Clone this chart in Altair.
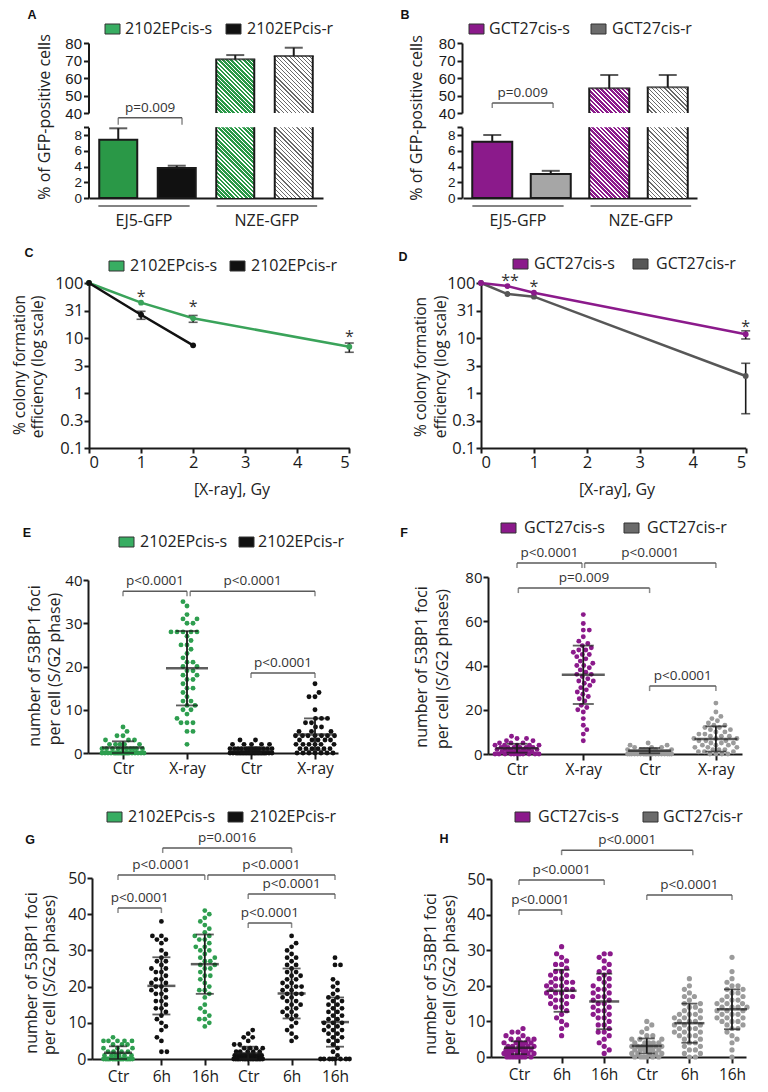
import altair as alt
import numpy as np
import pandas as pd

# ---------------- values ----------------
# Panels A / B : % of GFP-positive cells, bars = [EJ5 s, EJ5 r, NZE s, NZE r]
ab_groups = ["EJ5-GFP", "NZE-GFP"]
a_series = ["2102EPcis-s", "2102EPcis-r"]
a_mean = [7.4, 3.8, 70.7, 72.6]
a_sd = [1.45, 0.3, 2.4, 4.7]
b_series = ["GCT27cis-s", "GCT27cis-r"]
b_mean = [7.15, 3.05, 54.1, 54.7]
b_sd = [0.85, 0.4, 7.6, 7.0]
ab_p = "p=0.009"

# Panels C / D : colony formation efficiency (log scale)
c_s_dose = [0, 1, 2, 5]
c_s_val = [100, 43.9, 22.8, 6.95]
c_s_lo = [100, 43.9, 19.3, 5.5]
c_s_hi = [100, 43.9, 25.7, 8.1]
c_r_dose = [0, 1, 2]
c_r_val = [100, 26.5, 7.36]
c_r_lo = [100, 21.9, 7.36]
c_r_hi = [100, 30.6, 7.36]
c_star_dose = [1, 2, 5]
c_star_y = [65.8, 43.3, 12.3]
c_star_txt = ["*", "*", "*"]

d_s_dose = [0, 0.5, 1, 5]
d_s_val = [100, 88, 66.7, 11.7]
d_s_lo = [100, 88, 66.7, 9.6]
d_s_hi = [100, 88, 66.7, 13.5]
d_r_dose = [0, 0.5, 1, 5]
d_r_val = [100, 63, 56.4, 2.04]
d_r_lo = [100, 63, 56.4, 0.42]
d_r_hi = [100, 63, 56.4, 3.47]
d_star_dose = [0.55, 1, 5]
d_star_y = [128, 100, 18.7]
d_star_txt = ["**", "*", "*"]

log_ticks = [0.1, 0.316, 1, 3.16, 10, 31.6, 100]
log_labels = ["0.1", "0.3", "1", "3", "10", "31", "100"]
dose_ticks = [0, 1, 2, 3, 4, 5]

# Panel E : 53BP1 foci, groups Ctr / X-ray (s) , Ctr / X-ray (r)
e_labels = ["Ctr", "X-ray", "Ctr", "X-ray"]
e_s_ctr = [6, 5, 4, 4, 3, 3, 3, 2, 2, 2, 2, 2, 1, 1, 1, 1, 1, 1, 1, 1, 1, 1,
           0, 0, 0, 0, 0, 0, 0, 0, 0, 0, 0, 0, 0, 0, 0, 0, 0, 0, 0, 0]
e_s_xray = [35, 34, 32, 31, 31, 30, 30, 28, 28, 28, 28, 28, 27, 26, 25, 25, 24, 23,
            22, 21, 21, 20, 20, 19, 19, 18, 18, 17, 17, 16, 15, 15, 14, 13, 12, 12,
            11, 11, 10, 10, 9, 8, 7, 7, 7, 5, 5, 2]
e_r_ctr = [3, 3, 2, 2, 2, 2, 2, 1, 1, 1, 1, 1, 1, 1, 1, 1, 1, 1, 1, 1, 1,
           0, 0, 0, 0, 0, 0, 0, 0, 0, 0, 0, 0, 0, 0, 0, 0, 0, 0, 0, 0, 0, 0, 0, 0, 0]
e_r_xray = [16, 14, 13, 13, 10, 8, 8, 8, 7, 7, 6, 6, 5, 5, 5, 4, 4, 4, 4, 4, 4, 4,
            3, 3, 3, 3, 3, 2, 2, 2, 2, 2, 2, 1, 1, 1, 1, 1, 1, 0, 0, 0, 0, 0, 0, 0]
e_mean = [1.3, 19.6, 0.6, 4.3]
e_sd = [1.4, 8.6, 0.6, 3.7]
e_br_x1 = [0, 1.05, 2]
e_br_x2 = [1, 3, 3]
e_br_y = [37.4, 37.4, 18.5]
e_br_txt = ["p<0.0001", "p<0.0001", "p<0.0001"]

# Panel F
f_labels = ["Ctr", "X-ray", "Ctr", "X-ray"]
f_s_ctr = [8, 7, 7, 6, 6, 5, 5, 5, 4, 4, 4, 4, 4, 3, 3, 3, 3, 3, 3, 2, 2, 2, 2, 2, 2, 2,
           1, 1, 1, 1, 1, 1, 1, 1, 0, 0, 0, 0, 0, 0, 0, 0, 0, 0, 0]
f_s_xray = [63, 59, 56, 56, 53, 51, 50, 49, 48, 47, 47, 46, 45, 45, 44, 43, 42, 41, 40, 40,
            39, 38, 37, 36, 36, 35, 34, 33, 33, 32, 31, 30, 29, 28, 27, 26, 25, 24, 22, 21,
            20, 19, 16, 13, 11, 9, 6]
f_r_ctr = [5, 4, 4, 3, 3, 3, 2, 2, 2, 2, 2, 2, 1, 1, 1, 1, 1, 1, 1, 1, 1, 1, 1, 1, 1, 1,
           0, 0, 0, 0, 0, 0, 0, 0, 0, 0, 0, 0, 0, 0, 0, 0, 0, 0, 0, 0]
f_r_xray = [23, 19, 17, 16, 15, 14, 13, 13, 12, 12, 11, 11, 10, 10, 9, 9, 8, 8, 8, 7, 7, 7,
            6, 6, 6, 5, 5, 5, 4, 4, 4, 3, 3, 3, 2, 2, 2, 1, 1, 1, 0, 0, 0, 0]
f_mean = [2.6, 35.8, 1.5, 6.8]
f_sd = [2.0, 13.2, 1.2, 5.7]
f_br_x1 = [0, 1.02, 0.02, 2]
f_br_x2 = [0.98, 3, 2, 3]
f_br_y = [86.3, 86.3, 75.0, 30.7]
f_br_txt = ["p<0.0001", "p<0.0001", "p=0.009", "p<0.0001"]

# Panel G
g_labels = ["Ctr", "6h", "16h", "Ctr", "6h", "16h"]
g_0 = [6, 5, 5, 5, 5, 5, 4, 4, 4, 3, 3, 3, 2, 2, 2, 2, 1, 1, 1, 1, 1, 1,
       0, 0, 0, 0, 0, 0, 0, 0, 0, 0, 0, 0, 0, 0, 0, 0, 0, 0]
g_1 = [38, 34, 34, 33, 33, 32, 30, 29, 28, 27, 27, 26, 25, 25, 24, 24, 23, 22, 22, 21, 21,
       20, 20, 19, 19, 18, 18, 17, 16, 16, 15, 14, 14, 13, 12, 11, 10, 9, 8, 6, 5, 2, 2]
g_2 = [41, 40, 39, 38, 37, 36, 35, 34, 34, 33, 33, 32, 31, 31, 30, 30, 29, 28, 28, 27, 27,
       26, 26, 25, 25, 24, 23, 23, 22, 21, 20, 19, 19, 18, 17, 15, 14, 13, 12, 11, 11, 10, 9]
g_3 = [8, 7, 6, 6, 5, 4, 4, 3, 3, 3, 3, 2, 2, 2, 2, 2, 1, 1, 1, 1, 1, 1, 1, 1, 1, 1,
       0, 0, 0, 0, 0, 0, 0, 0, 0, 0, 0, 0, 0, 0, 0, 0, 0, 0]
g_4 = [34, 32, 31, 30, 29, 28, 28, 27, 26, 26, 25, 24, 24, 23, 23, 22, 22, 21, 21, 20, 20, 20,
       19, 19, 18, 18, 18, 17, 17, 16, 16, 15, 15, 14, 14, 13, 13, 12, 12, 11, 10, 9, 8, 7, 6, 5]
g_5 = [28, 26, 26, 22, 21, 20, 19, 18, 17, 17, 16, 16, 15, 15, 14, 14, 13, 13, 12, 12, 11, 11,
       10, 10, 10, 9, 9, 8, 8, 8, 7, 7, 6, 6, 5, 5, 4, 3, 2, 1, 0, 0, 0, 0, 0, 0, 0, 0]
g_mean = [1.7, 20.2, 26.2, 1.6, 18.1, 10.2]
g_sd = [1.8, 7.9, 8.2, 1.8, 6.9, 6.8]
g_br_x1 = [1.03, 0, 2.07, 3, 0, 3]
g_br_x2 = [4, 2, 5, 5, 1, 4]
g_br_y = [58.3, 50.8, 50.8, 45.6, 41.7, 37.6]
g_br_txt = ["p=0.0016", "p<0.0001", "p<0.0001", "p<0.0001", "p<0.0001", "p<0.0001"]

# Panel H
h_labels = ["Ctr", "6h", "16h", "Ctr", "6h", "16h"]
h_0 = [8, 7, 7, 6, 6, 5, 5, 5, 5, 4, 4, 4, 4, 4, 3, 3, 3, 3, 3, 3, 2, 2, 2, 2, 2, 2, 2,
       1, 1, 1, 1, 1, 1, 1, 0, 0, 0, 0, 0, 0, 0, 0]
h_1 = [31, 29, 28, 27, 26, 26, 25, 24, 24, 23, 23, 22, 22, 21, 21, 21, 20, 20, 20, 19, 19,
       19, 18, 18, 18, 17, 17, 17, 16, 16, 15, 15, 14, 14, 13, 12, 11, 10, 9, 8, 6]
h_2 = [29, 29, 28, 27, 26, 25, 24, 24, 23, 22, 22, 21, 20, 20, 19, 19, 18, 18, 17, 17, 16,
       16, 15, 15, 14, 14, 13, 13, 12, 12, 11, 11, 10, 9, 9, 8, 7, 7, 6, 5, 4, 3, 2, 1]
h_3 = [10, 9, 8, 7, 6, 6, 5, 5, 5, 4, 4, 4, 4, 4, 3, 3, 3, 3, 3, 3, 3, 2, 2, 2, 2, 2, 2,
       1, 1, 1, 1, 1, 0, 0, 0, 0, 0, 0]
h_4 = [22, 20, 19, 18, 17, 17, 16, 15, 15, 14, 14, 13, 13, 12, 12, 12, 11, 11, 11, 10, 10, 10,
       9, 9, 9, 8, 8, 8, 7, 7, 7, 6, 6, 6, 5, 5, 4, 4, 3, 3, 2, 2, 1, 1, 0, 0]
h_5 = [28, 24, 22, 21, 20, 20, 19, 19, 18, 18, 17, 17, 16, 16, 16, 15, 15, 15, 14, 14, 14, 14,
       13, 13, 13, 12, 12, 12, 11, 11, 11, 10, 10, 10, 9, 9, 8, 8, 7, 6, 5, 4, 2, 0]
h_mean = [2.6, 18.6, 15.6, 3.1, 9.5, 13.4]
h_sd = [1.8, 5.9, 7.8, 2.1, 5.5, 5.6]
h_br_x1 = [1, 0, 3, 0]
h_br_x2 = [4.08, 2, 5, 1]
h_br_y = [58.1, 49.7, 45.5, 41.3]
h_br_txt = ["p<0.0001", "p<0.0001", "p<0.0001", "p<0.0001"]

# ---------------- styling / layout ----------------
FONT = "Open Sans"
LETTER_FONT = "Liberation Sans"
TIGHT_FONT = "Liberation Sans"
INK = "#1a1a1a"
TXT = "#222222"
BRC = "#5a5a5a"
GREEN = "#2e9e4f"
GREEN_BAR = "#2a9847"
GREEN_LEG = "#38ad62"
GREEN_LINE = "#3aa35a"
PURPLE = "#8b1a8b"
GREY_BAR = "#a6a6a6"
GREY_PT = "#9b9b9b"
GREY_DK = "#575757"
GREY_LEG = "#6b6b6b"
BLACK = "#111111"

VW, VH = 752, 1076


def P(v):
    return v - 8


def one():
    return alt.Data(values=[{"k": 0}])


def text_at(x, y, s, size=16, angle=0, bold=False, font=FONT, align="center",
            baseline="middle", color=TXT):
    kw = dict(text=s, fontSize=size, font=font, align=align, baseline=baseline, color=color)
    if angle:
        kw["angle"] = angle
    if bold:
        kw["fontWeight"] = "bold"
    return alt.Chart(one()).mark_text(**kw).encode(x=alt.value(P(x)), y=alt.value(P(y)))


def legend_items(yc, items):
    out = []
    for x0, xt, col, lab in items:
        out.append(alt.Chart(one()).mark_rect(fill=col, stroke="#333333", strokeWidth=1).encode(
            x=alt.value(P(x0)), x2=alt.value(P(x0 + 15)),
            y=alt.value(P(yc - 5)), y2=alt.value(P(yc + 5))))
        out.append(text_at(xt, yc, lab, size=16, align="left"))
    return out


def hatch(w, h, fg, bg, period=4.2, frac=0.5):
    k = (w + h) / (w * w + h * h)
    n = max(1, int(round((w + h) / period)))
    stops = []
    for i in range(n):
        a, b, c = i / n, (i + frac) / n, (i + 1) / n
        stops += [{"offset": a, "color": fg}, {"offset": b, "color": fg},
                  {"offset": b, "color": bg}, {"offset": c, "color": bg}]
    return {"gradient": "linear", "x1": 0, "y1": 1, "x2": k * w, "y2": 1 - k * h,
            "stops": stops}


def bracket_layers(Xf, Yf, x1, x2, y, txt, tick=5, size=13.5):
    df = pd.DataFrame({"x1": x1, "x2": x2, "y": y, "t": txt})
    df["xm"] = (df["x1"] + df["x2"]) / 2
    return [
        alt.Chart(df).mark_rule(color=BRC, strokeWidth=1.5).encode(
            x=Xf("x1"), x2=alt.X2("x2"), y=Yf("y")),
        alt.Chart(df).mark_tick(orient="vertical", size=tick, thickness=1.5,
                                yOffset=tick / 2, color=BRC).encode(x=Xf("x1"), y=Yf("y")),
        alt.Chart(df).mark_tick(orient="vertical", size=tick, thickness=1.5,
                                yOffset=tick / 2, color=BRC).encode(x=Xf("x2"), y=Yf("y")),
        alt.Chart(df).mark_text(font=FONT, fontSize=size, color="#333333", dy=-6,
                                baseline="alphabetic").encode(x=Xf("xm"), y=Yf("y"), text="t:N"),
    ]


# ---------------- A / B : broken-axis bar charts ----------------
KY_BOT = (198 - 135) / 8.0
KY_TOP = (113 - 43) / 40.0


def bar_panel(means, sds, solid_fills, hatch_cols, axis_x, xl, xr, bw, br_seg, br_x2, br_y, br_tick):
    df = pd.DataFrame({"i": [0, 1, 2, 3], "m": means,
                       "hi": [m + s for m, s in zip(means, sds)]})
    df["z"] = 0.0
    df["b40"] = 40.0
    df["m9"] = df["m"].clip(upper=9)
    df["fill"] = solid_fills + ["#ffffff", "#ffffff"]
    xs = alt.Scale(domain=[-0.5, 3.5], range=[P(xl), P(xr)], nice=False, zero=False, padding=0)
    ax_xb = alt.Axis(orient="bottom", offset=P(198) - VH, ticks=False, labels=False,
                     title=None, grid=False)
    ys_b = alt.Scale(domain=[0, 9], range=[P(198), P(198 - 9 * KY_BOT)], nice=False,
                     zero=False, padding=0)
    ys_t = alt.Scale(domain=[40, 80], range=[P(113), P(43)], nice=False, zero=False, padding=0)
    ax_yb = alt.Axis(orient="left", offset=-P(axis_x), values=[0, 2, 4, 6, 8, 9],
                     labelExpr="datum.value == 9 ? '' : datum.label", title=None, grid=False,
                     labelFont=TIGHT_FONT, labelFontSize=13.5, tickSize=5, labelPadding=2,
                     labelOverlap=False)
    ax_yt = alt.Axis(orient="left", offset=-P(axis_x), values=[40, 50, 60, 70, 80],
                     title=None, grid=False, labelFont=TIGHT_FONT, labelFontSize=15,
                     tickSize=5, labelPadding=2, labelOverlap=False)

    def Xb(f):
        return alt.X(f + ":Q", scale=xs, axis=ax_xb)

    def Xt(f):
        return alt.X(f + ":Q", scale=xs, axis=None)

    def Yb(f):
        return alt.Y(f + ":Q", scale=ys_b, axis=ax_yb)

    def Yt(f):
        return alt.Y(f + ":Q", scale=ys_t, axis=ax_yt)

    solid = df[df.i < 2]
    bot = [
        alt.Chart(solid).mark_bar(size=bw, stroke=INK, strokeWidth=2).encode(
            x=Xb("i"), y=Yb("m"), y2=alt.Y2("z"), fill=alt.Fill("fill:N", scale=None)),
        alt.Chart(solid).mark_rule(color=INK, strokeWidth=2).encode(
            x=Xb("i"), y=Yb("m"), y2=alt.Y2("hi")),
        alt.Chart(solid).mark_tick(orient="horizontal", size=18, thickness=2, color=INK).encode(
            x=Xb("i"), y=Yb("hi")),
    ]
    top = []
    for j, (fg, bg, frac) in zip([2, 3], hatch_cols):
        row = df[df.i == j]
        m = float(row["m"].iloc[0])
        bot.append(alt.Chart(row).mark_bar(size=bw, fill=hatch(bw, 9 * KY_BOT, fg, bg, frac=frac)).encode(
            x=Xb("i"), y=Yb("m9"), y2=alt.Y2("z")))
        top.append(alt.Chart(row).mark_bar(size=bw, fill=hatch(bw, (m - 40) * KY_TOP, fg, bg, frac=frac)).encode(
            x=Xt("i"), y=Yt("m"), y2=alt.Y2("b40")))
        for side in (-bw / 2, bw / 2):
            bot.append(alt.Chart(row).mark_rule(color=INK, strokeWidth=2, xOffset=side).encode(
                x=Xb("i"), y=Yb("m9"), y2=alt.Y2("z")))
            top.append(alt.Chart(row).mark_rule(color=INK, strokeWidth=2, xOffset=side).encode(
                x=Xt("i"), y=Yt("m"), y2=alt.Y2("b40")))
    hat = df[df.i >= 2]
    top += [
        alt.Chart(hat).mark_tick(orient="horizontal", size=bw + 2, thickness=2, color=INK).encode(
            x=Xt("i"), y=Yt("m")),
        alt.Chart(hat).mark_rule(color=INK, strokeWidth=2).encode(
            x=Xt("i"), y=Yt("m"), y2=alt.Y2("hi")),
        alt.Chart(hat).mark_tick(orient="horizontal", size=18, thickness=2, color=INK).encode(
            x=Xt("i"), y=Yt("hi")),
    ]
    # group underline + labels
    gdf = pd.DataFrame({"g": ab_groups, "x1": [-0.34, 1.68], "x2": [1.22, 3.4], "xm": [0.44, 2.54]})
    bot += [
        alt.Chart(gdf).mark_rule(color=BRC, strokeWidth=1.5).encode(
            x=Xb("x1"), x2=alt.X2("x2"), y=alt.value(P(206))),
        alt.Chart(gdf).mark_text(font=FONT, fontSize=16, color=TXT).encode(
            x=Xb("xm"), y=alt.value(P(221)), text="g:N"),
    ]
    if br_seg == "bot":
        bot += bracket_layers(Xb, Yb, [0], [br_x2], [br_y], [ab_p], tick=br_tick)
    else:
        top += bracket_layers(Xt, Yt, [0], [br_x2], [br_y], [ab_p], tick=br_tick)
    return [alt.layer(*bot), alt.layer(*top)]


panels = []
panels += bar_panel(a_mean, a_sd, [GREEN_BAR, BLACK],
                    [(GREEN_BAR, "#ffffff", 0.62), ("#6a6a6a", "#ffffff", 0.3)],
                    axis_x=88.5, xl=89, xr=323, bw=38, br_seg="bot", br_x2=1.09,
                    br_y=10.2, br_tick=7)
panels += bar_panel(b_mean, b_sd, [PURPLE, GREY_BAR],
                    [(PURPLE, "#ffffff", 0.62), ("#6a6a6a", "#ffffff", 0.3)],
                    axis_x=462, xl=463, xr=697, bw=40, br_seg="top", br_x2=1.04,
                    br_y=45.7, br_tick=5)


# ---------------- C / D : survival curves ----------------
def log_label_expr():
    parts = []
    for k in range(len(log_ticks) - 1):
        thr = (log_ticks[k] * log_ticks[k + 1]) ** 0.5
        parts.append(f"datum.value < {thr:.4f} ? '{log_labels[k]}' : ")
    return "".join(parts) + f"'{log_labels[-1]}'"


def curve_panel(axis_x, x5, series, stars):
    xs = alt.Scale(domain=[0, 5], range=[P(axis_x), P(x5)], nice=False, zero=False, padding=0)
    ys = alt.Scale(type="log", domain=[0.1, 100], range=[P(448), P(283)], nice=False, padding=0)
    ax_x = alt.Axis(orient="bottom", offset=P(448) - VH, values=dose_ticks, format="d",
                    title=None, grid=False, labelFontSize=16.5, tickSize=5, labelPadding=1)
    ax_y = alt.Axis(orient="left", offset=-P(axis_x), values=log_ticks, labelExpr=log_label_expr(),
                    title=None, grid=False, labelFontSize=16.5, tickSize=5, labelPadding=1,
                    labelOverlap=False)

    def Xf(f):
        return alt.X(f + ":Q", scale=xs, axis=ax_x)

    def Yf(f):
        return alt.Y(f + ":Q", scale=ys, axis=ax_y)

    layers = []
    for dose, val, lo, hi, col in series:
        df = pd.DataFrame({"d": dose, "v": val, "lo": lo, "hi": hi})
        err = df[df.lo < df.hi]
        layers += [
            alt.Chart(df).mark_line(color=col, strokeWidth=2.5).encode(x=Xf("d"), y=Yf("v")),
            alt.Chart(err).mark_rule(color=INK, strokeWidth=1.6).encode(
                x=Xf("d"), y=Yf("lo"), y2=alt.Y2("hi")),
            alt.Chart(err).mark_tick(orient="horizontal", size=9, thickness=1.6, color=INK).encode(
                x=Xf("d"), y=Yf("lo")),
            alt.Chart(err).mark_tick(orient="horizontal", size=9, thickness=1.6, color=INK).encode(
                x=Xf("d"), y=Yf("hi")),
            alt.Chart(df).mark_circle(size=34, color=col, opacity=1).encode(x=Xf("d"), y=Yf("v")),
        ]
    sd = pd.DataFrame({"d": stars[0], "y": stars[1], "t": stars[2]})
    layers.append(alt.Chart(sd).mark_text(font=FONT, fontSize=16, color="#333333", dy=4).encode(
        x=Xf("d"), y=Yf("y"), text="t:N"))
    return alt.layer(*layers)


panels.append(curve_panel(89, 349.3, [
    (c_s_dose, c_s_val, c_s_lo, c_s_hi, GREEN_LINE),
    (c_r_dose, c_r_val, c_r_lo, c_r_hi, BLACK)],
    (c_star_dose, c_star_y, c_star_txt)))
panels.append(curve_panel(481, 745.7, [
    (d_r_dose, d_r_val, d_r_lo, d_r_hi, GREY_DK),
    (d_s_dose, d_s_val, d_s_lo, d_s_hi, PURPLE)],
    (d_star_dose, d_star_y, d_star_txt)))


# ---------------- E - H : scatter dot plots ----------------
def swarm_offsets(vals, ky, d, wmax):
    vals = np.asarray(vals, dtype=float)
    ys = vals * ky
    order = np.argsort(vals, kind="stable")
    cand = np.round(np.arange(-wmax, wmax + 1e-9, 0.5), 3)
    pxl, pyl = [], []
    off = np.zeros(len(vals))
    last = -1.0
    for i in order:
        y = ys[i]
        if pxl:
            pxa = np.array(pxl)
            pya = np.array(pyl)
            dist = np.sqrt((cand[:, None] - pxa[None, :]) ** 2 + (y - pya[None, :]) ** 2).min(axis=1)
        else:
            dist = np.full(cand.shape, np.inf)
        ok = dist >= d
        if ok.any():
            score = np.where(ok, np.abs(cand) + 0.01 * (np.sign(cand) == last), np.inf)
            j = int(np.argmin(score))
        else:
            j = int(np.argmax(dist - 0.02 * np.abs(cand)))
        off[i] = cand[j]
        pxl.append(cand[j])
        pyl.append(y)
        if cand[j] != 0:
            last = np.sign(cand[j])
    return off


def dot_panel(groups, colors, means, sds, labels, x0, dx, xl, xr, ymax, y0p, y1p, ystep,
              ylab, d, size, wmax, mean_w, cap_w, br, lab_pad):
    n = len(groups)
    ky = (y0p - y1p) / ymax
    rows = []
    for gi, (vals, col) in enumerate(zip(groups, colors)):
        offs = swarm_offsets(vals, ky, d, wmax)
        for v, o in zip(vals, offs):
            rows.append({"x": gi + o / dx, "v": v, "c": col})
    pts = pd.DataFrame(rows)
    st = pd.DataFrame({"x": list(range(n)), "m": means,
                       "lo": [max(m - s, 0) for m, s in zip(means, sds)],
                       "hi": [m + s for m, s in zip(means, sds)]})
    xs = alt.Scale(domain=[(xl - x0) / dx, (xr - x0) / dx], range=[P(xl), P(xr)],
                   nice=False, zero=False, padding=0)
    ys = alt.Scale(domain=[0, ymax], range=[P(y0p), P(y1p)], nice=False, zero=False, padding=0)
    lab_expr = "[" + ",".join(f"'{s}'" for s in labels) + "][datum.value]"
    ax_x = alt.Axis(orient="bottom", offset=P(y0p) - VH, values=list(range(n)), labelExpr=lab_expr,
                    title=None, grid=False, labelFontSize=15.5, tickSize=6, labelPadding=lab_pad,
                    labelOverlap=False)
    ax_y = alt.Axis(orient="left", offset=-P(xl), values=list(range(0, ymax + 1, ystep)),
                    title=None, grid=False, labelFontSize=ylab, tickSize=5, labelPadding=1,
                    labelOverlap=False)

    def Xf(f):
        return alt.X(f + ":Q", scale=xs, axis=ax_x)

    def Yf(f):
        return alt.Y(f + ":Q", scale=ys, axis=ax_y)

    layers = [
        alt.Chart(pts).mark_circle(size=size, opacity=1).encode(
            x=Xf("x"), y=Yf("v"), color=alt.Color("c:N", scale=None)),
        alt.Chart(st).mark_rule(color=INK, strokeWidth=1.8).encode(
            x=Xf("x"), y=Yf("lo"), y2=alt.Y2("hi")),
        alt.Chart(st).mark_tick(orient="horizontal", size=cap_w, thickness=1.8, color=INK).encode(
            x=Xf("x"), y=Yf("lo")),
        alt.Chart(st).mark_tick(orient="horizontal", size=cap_w, thickness=1.8, color=INK).encode(
            x=Xf("x"), y=Yf("hi")),
        alt.Chart(st).mark_tick(orient="horizontal", size=mean_w, thickness=2.5, color=INK).encode(
            x=Xf("x"), y=Yf("m")),
    ]
    layers += bracket_layers(Xf, Yf, *br)
    return alt.layer(*layers)


panels.append(dot_panel([e_s_ctr, e_s_xray, e_r_ctr, e_r_xray], [GREEN, GREEN, BLACK, BLACK],
                        e_mean, e_sd, e_labels, x0=123, dx=64, xl=88, xr=338, ymax=40,
                        y0p=753, y1p=580, ystep=10, ylab=15, d=5.6, size=24, wmax=21,
                        mean_w=42, cap_w=22, br=(e_br_x1, e_br_x2, e_br_y, e_br_txt), lab_pad=2))
panels.append(dot_panel([f_s_ctr, f_s_xray, f_r_ctr, f_r_xray], [PURPLE, PURPLE, GREY_PT, GREY_PT],
                        f_mean, f_sd, f_labels, x0=517, dx=66.3, xl=488, xr=742, ymax=80,
                        y0p=754, y1p=577, ystep=20, ylab=15, d=5.6, size=24, wmax=22,
                        mean_w=43, cap_w=21, br=(f_br_x1, f_br_x2, f_br_y, f_br_txt), lab_pad=2))
panels.append(dot_panel([g_0, g_1, g_2, g_3, g_4, g_5], [GREEN, BLACK, GREEN, BLACK, BLACK, BLACK],
                        g_mean, g_sd, g_labels, x0=118, dx=43.4, xl=92, xr=347, ymax=50,
                        y0p=1059, y1p=878, ystep=10, ylab=16, d=5.4, size=23, wmax=14.5,
                        mean_w=28, cap_w=18, br=(g_br_x1, g_br_x2, g_br_y, g_br_txt), lab_pad=4))
panels.append(dot_panel([h_0, h_1, h_2, h_3, h_4, h_5],
                        [PURPLE, PURPLE, PURPLE, GREY_PT, GREY_PT, GREY_PT],
                        h_mean, h_sd, h_labels, x0=519, dx=42.6, xl=491, xr=746, ymax=50,
                        y0p=1057, y1p=879, ystep=10, ylab=16, d=5.8, size=27, wmax=15,
                        mean_w=30, cap_w=16, br=(h_br_x1, h_br_x2, h_br_y, h_br_txt), lab_pad=4))

# ---------------- decorations: legends, letters, titles ----------------
decor = []
decor += legend_items(29, [(105, 125, GREEN_LEG, a_series[0]), (226, 247, BLACK, a_series[1])])
decor += legend_items(29, [(469, 489, PURPLE, b_series[0]), (591, 612, GREY_LEG, b_series[1])])
decor += legend_items(266, [(109, 130, GREEN_LEG, a_series[0]), (230, 251, BLACK, a_series[1])])
decor += legend_items(264, [(513, 534, PURPLE, b_series[0]), (633, 656, GREY_DK, b_series[1])])
decor += legend_items(542, [(119, 140, GREEN_LEG, a_series[0]), (239, 258, BLACK, a_series[1])])
decor += legend_items(528, [(501, 524, PURPLE, b_series[0]), (624, 647, GREY_LEG, b_series[1])])
decor += legend_items(817, [(107, 128, GREEN_LEG, a_series[0]), (228, 250, BLACK, a_series[1])])
decor += legend_items(817, [(515, 538, PURPLE, b_series[0]), (643, 663, GREY_LEG, b_series[1])])

for lt, lx, ly in [("A", 32, 15), ("B", 405, 15), ("C", 29, 253), ("D", 403, 257),
                   ("E", 27, 533), ("F", 404, 533), ("G", 30, 840), ("H", 444, 839)]:
    decor.append(text_at(lx, ly, lt, size=12.5, bold=True, font=LETTER_FONT, color="#111111"))

decor += [
    text_at(45, 117, "% of GFP-positive cells", angle=270),
    text_at(417, 118, "% of GFP-positive cells", angle=270),
    text_at(20, 365, "% colony formation", angle=270, size=15.5),
    text_at(38, 367, "efficiency (log scale)", angle=270, size=15.5),
    text_at(421, 367, "% colony formation", angle=270, size=15.5),
    text_at(441, 367, "efficiency (log scale)", angle=270, size=15.5),
    text_at(232, 490, "[X-ray], Gy"),
    text_at(617, 490, "[X-ray], Gy"),
    text_at(35, 666, "number of 53BP1 foci", angle=270),
    text_at(55, 669, "per cell (S/G2 phase)", angle=270),
    text_at(422, 667, "number of 53BP1 foci", angle=270),
    text_at(443, 669, "per cell (S/G2 phases)", angle=270),
    text_at(32, 973, "number of 53BP1 foci", angle=270),
    text_at(50, 975, "per cell (S/G2 phases)", angle=270),
    text_at(431, 974, "number of 53BP1 foci", angle=270),
    text_at(450, 975, "per cell (S/G2 phases)", angle=270),
]

chart = (
    alt.layer(*panels, *decor)
    .resolve_scale(x="independent", y="independent")
    .properties(width=VW, height=VH, padding=0)
    .configure_view(stroke=None)
    .configure_axis(domainColor=INK, domainWidth=2, tickColor=INK, tickWidth=2,
                    labelColor=INK, labelFont=FONT, grid=False)
)
chart.save("out.html", embed_options={"renderer": "svg", "actions": False})
